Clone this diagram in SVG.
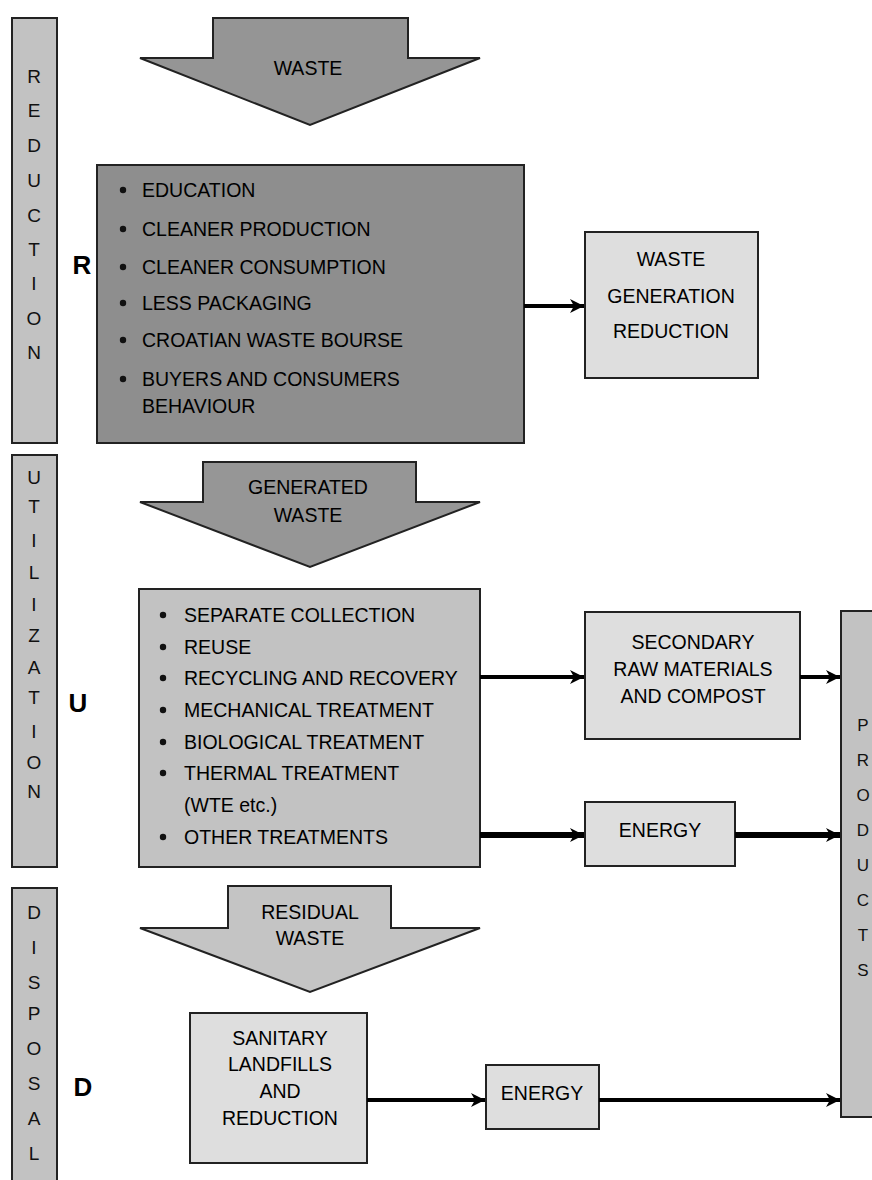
<svg xmlns="http://www.w3.org/2000/svg" width="872" height="1180" viewBox="0 0 872 1180">
<defs>
<style>
text{font-family:"Liberation Sans",Arial,sans-serif;fill:#000;}
.t{font-size:19.5px;}
.c{text-anchor:middle;dominant-baseline:central;}
.l{dominant-baseline:central;}
.side{font-size:19px;text-anchor:middle;dominant-baseline:central;fill:#111;}
.ps{font-size:17px;}
.big{font-size:26px;font-weight:bold;text-anchor:middle;dominant-baseline:central;}
.bar{fill:#c2c2c2;stroke:#222;stroke-width:2;}
.dark{fill:#8e8e8e;stroke:#222;stroke-width:2;}
.mid{fill:#c2c2c2;stroke:#222;stroke-width:2;}
.light{fill:#dedede;stroke:#222;stroke-width:2;}
.ln{stroke:#000;fill:none;}
.dot{fill:#111;}
</style>
<marker id="ah" markerUnits="userSpaceOnUse" markerWidth="16" markerHeight="14" refX="14" refY="7" orient="auto">
<path d="M0,0 L14,7 L0,14 L4,7 z" fill="#000"/>
</marker>
</defs>

<g id="bar-reduction">
<rect class="bar" x="12" y="18" width="45" height="425"/>
<text class="side" x="34" y="76">R</text>
<text class="side" x="34" y="110">E</text>
<text class="side" x="34" y="145">D</text>
<text class="side" x="34" y="180">U</text>
<text class="side" x="34" y="215">C</text>
<text class="side" x="34" y="249">T</text>
<text class="side" x="34" y="283">I</text>
<text class="side" x="34" y="318">O</text>
<text class="side" x="34" y="352">N</text>
</g>

<g id="bar-utilization">
<rect class="bar" x="12" y="455" width="45" height="412"/>
<text class="side" x="34" y="477">U</text>
<text class="side" x="34" y="506">T</text>
<text class="side" x="34" y="540">I</text>
<text class="side" x="34" y="572">L</text>
<text class="side" x="34" y="604">I</text>
<text class="side" x="34" y="635">Z</text>
<text class="side" x="34" y="667">A</text>
<text class="side" x="34" y="697">T</text>
<text class="side" x="34" y="731">I</text>
<text class="side" x="34" y="762">O</text>
<text class="side" x="34" y="791">N</text>
</g>

<g id="bar-disposal">
<rect class="bar" x="12" y="888" width="45" height="300"/>
<text class="side" x="34" y="912">D</text>
<text class="side" x="34" y="947">I</text>
<text class="side" x="34" y="982">S</text>
<text class="side" x="34" y="1013">P</text>
<text class="side" x="34" y="1048">O</text>
<text class="side" x="34" y="1083">S</text>
<text class="side" x="34" y="1118">A</text>
<text class="side" x="34" y="1153">L</text>
</g>

<g id="label-R"><text class="big" x="82" y="265">R</text></g>
<g id="label-U"><text class="big" x="78" y="703">U</text></g>
<g id="label-D"><text class="big" x="83" y="1087">D</text></g>

<g id="arrow-waste">
<polygon points="213,18 408,18 408,58 480,58 310,125 140,58 213,58" fill="#959595" stroke="#222" stroke-width="2"/>
<text class="t c" x="308" y="68">WASTE</text>
</g>

<g id="box-reduction">
<rect class="dark" x="97" y="165" width="427" height="278"/>
<circle class="dot" cx="123" cy="190" r="3.2"/><text class="t l" x="142" y="190">EDUCATION</text>
<circle class="dot" cx="123" cy="229" r="3.2"/><text class="t l" x="142" y="229">CLEANER PRODUCTION</text>
<circle class="dot" cx="123" cy="267" r="3.2"/><text class="t l" x="142" y="267">CLEANER CONSUMPTION</text>
<circle class="dot" cx="123" cy="303" r="3.2"/><text class="t l" x="142" y="303">LESS PACKAGING</text>
<circle class="dot" cx="123" cy="340" r="3.2"/><text class="t l" x="142" y="340">CROATIAN WASTE BOURSE</text>
<circle class="dot" cx="123" cy="379" r="3.2"/><text class="t l" x="142" y="379">BUYERS AND CONSUMERS</text>
<text class="t l" x="142" y="406">BEHAVIOUR</text>
</g>

<g id="box-wgr">
<rect class="light" x="585" y="232" width="173" height="146"/>
<text class="t c" x="671" y="259">WASTE</text>
<text class="t c" x="671" y="296">GENERATION</text>
<text class="t c" x="671" y="331">REDUCTION</text>
</g>

<g id="arrow-generated">
<polygon points="203,462 416,462 416,502 480,502 310,567 140,502 203,502" fill="#969696" stroke="#222" stroke-width="2"/>
<text class="t c" x="308" y="487">GENERATED</text>
<text class="t c" x="308" y="515">WASTE</text>
</g>

<g id="box-utilization">
<rect class="mid" x="139" y="589" width="341" height="278"/>
<circle class="dot" cx="163" cy="615" r="3.2"/><text class="t l" x="184" y="615">SEPARATE COLLECTION</text>
<circle class="dot" cx="163" cy="647" r="3.2"/><text class="t l" x="184" y="647">REUSE</text>
<circle class="dot" cx="163" cy="678" r="3.2"/><text class="t l" x="184" y="678">RECYCLING AND RECOVERY</text>
<circle class="dot" cx="163" cy="710" r="3.2"/><text class="t l" x="184" y="710">MECHANICAL TREATMENT</text>
<circle class="dot" cx="163" cy="742" r="3.2"/><text class="t l" x="184" y="742">BIOLOGICAL TREATMENT</text>
<circle class="dot" cx="163" cy="773" r="3.2"/><text class="t l" x="184" y="773">THERMAL TREATMENT</text>
<text class="t l" x="184" y="805">(WTE etc.)</text>
<circle class="dot" cx="163" cy="837" r="3.2"/><text class="t l" x="184" y="837">OTHER TREATMENTS</text>
</g>

<g id="box-secondary">
<rect class="light" x="585" y="612" width="215" height="127"/>
<text class="t c" x="693" y="642">SECONDARY</text>
<text class="t c" x="693" y="669">RAW MATERIALS</text>
<text class="t c" x="693" y="696">AND COMPOST</text>
</g>

<g id="box-energy-u">
<rect class="light" x="585" y="802" width="150" height="64"/>
<text class="t c" x="660" y="830">ENERGY</text>
</g>

<g id="bar-products">
<rect class="bar" x="841" y="611" width="40" height="506"/>
<text class="side ps" x="863" y="725">P</text>
<text class="side ps" x="863" y="760">R</text>
<text class="side ps" x="863" y="795">O</text>
<text class="side ps" x="863" y="830">D</text>
<text class="side ps" x="863" y="865">U</text>
<text class="side ps" x="863" y="900">C</text>
<text class="side ps" x="863" y="935">T</text>
<text class="side ps" x="863" y="970">S</text>
</g>

<g id="arrow-residual">
<polygon points="228,886 391,886 391,928 480,928 310,992 140,928 228,928" fill="#c4c4c4" stroke="#222" stroke-width="2"/>
<text class="t c" x="310" y="912">RESIDUAL</text>
<text class="t c" x="310" y="938">WASTE</text>
</g>

<g id="box-sanitary">
<rect class="light" x="190" y="1013" width="177" height="150"/>
<text class="t c" x="280" y="1038">SANITARY</text>
<text class="t c" x="280" y="1064">LANDFILLS</text>
<text class="t c" x="280" y="1091">AND</text>
<text class="t c" x="280" y="1118">REDUCTION</text>
</g>

<g id="box-energy-d">
<rect class="light" x="486" y="1065" width="113" height="64"/>
<text class="t c" x="542" y="1093">ENERGY</text>
</g>

<g id="connectors">
<line class="ln" x1="524" y1="306" x2="584" y2="306" stroke-width="4" marker-end="url(#ah)"/>
<line class="ln" x1="480" y1="677" x2="584" y2="677" stroke-width="4" marker-end="url(#ah)"/>
<line class="ln" x1="800" y1="677" x2="840" y2="677" stroke-width="4" marker-end="url(#ah)"/>
<line class="ln" x1="480" y1="835" x2="584" y2="835" stroke-width="6" marker-end="url(#ah)"/>
<line class="ln" x1="735" y1="835" x2="840" y2="835" stroke-width="6" marker-end="url(#ah)"/>
<line class="ln" x1="367" y1="1100" x2="485" y2="1100" stroke-width="4" marker-end="url(#ah)"/>
<line class="ln" x1="599" y1="1100" x2="840" y2="1100" stroke-width="4" marker-end="url(#ah)"/>
</g>
</svg>
